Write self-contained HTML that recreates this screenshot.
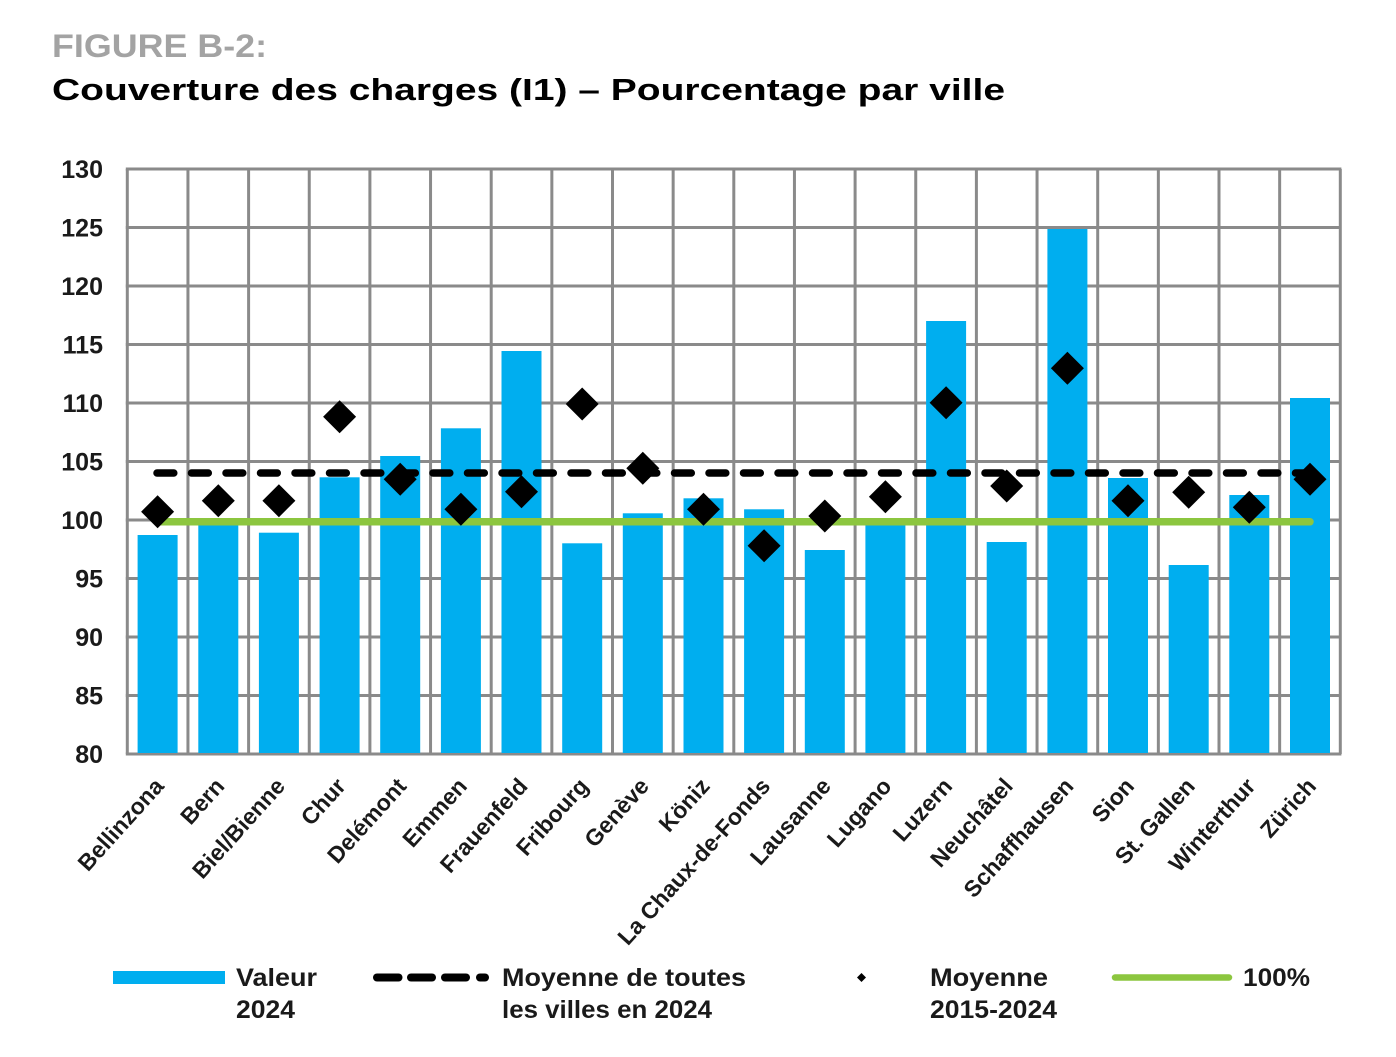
<!DOCTYPE html>
<html><head><meta charset="utf-8"><style>
html,body{margin:0;padding:0;background:#fff;}
svg{display:block;}
text{font-family:"Liberation Sans",Arial,sans-serif;}
</style></head><body>
<svg width="1396" height="1057" viewBox="0 0 1396 1057" xmlns="http://www.w3.org/2000/svg">
<rect width="1396" height="1057" fill="#fff"/>
<text x="52" y="57" font-size="32" font-weight="bold" fill="#a3a3a3" textLength="215" lengthAdjust="spacingAndGlyphs">FIGURE B-2:</text>
<text x="52" y="100" font-size="30.5" font-weight="bold" fill="#000" textLength="953" lengthAdjust="spacingAndGlyphs">Couverture des charges (I1) – Pourcentage par ville</text>

<g stroke="#8a8a8a" stroke-width="3" fill="none">
<line x1="125.8" y1="169" x2="1341.4" y2="169"/>
<line x1="125.8" y1="227.5" x2="1341.4" y2="227.5"/>
<line x1="125.8" y1="286" x2="1341.4" y2="286"/>
<line x1="125.8" y1="344.5" x2="1341.4" y2="344.5"/>
<line x1="125.8" y1="403" x2="1341.4" y2="403"/>
<line x1="125.8" y1="461.5" x2="1341.4" y2="461.5"/>
<line x1="125.8" y1="520" x2="1341.4" y2="520"/>
<line x1="125.8" y1="578.5" x2="1341.4" y2="578.5"/>
<line x1="125.8" y1="637" x2="1341.4" y2="637"/>
<line x1="125.8" y1="695.5" x2="1341.4" y2="695.5"/>
<line x1="125.8" y1="754" x2="1341.4" y2="754"/>
<line x1="127.3" y1="169" x2="127.3" y2="754"/>
<line x1="187.95" y1="169" x2="187.95" y2="754"/>
<line x1="248.6" y1="169" x2="248.6" y2="754"/>
<line x1="309.25" y1="169" x2="309.25" y2="754"/>
<line x1="369.9" y1="169" x2="369.9" y2="754"/>
<line x1="430.55" y1="169" x2="430.55" y2="754"/>
<line x1="491.2" y1="169" x2="491.2" y2="754"/>
<line x1="551.85" y1="169" x2="551.85" y2="754"/>
<line x1="612.5" y1="169" x2="612.5" y2="754"/>
<line x1="673.15" y1="169" x2="673.15" y2="754"/>
<line x1="733.8" y1="169" x2="733.8" y2="754"/>
<line x1="794.45" y1="169" x2="794.45" y2="754"/>
<line x1="855.1" y1="169" x2="855.1" y2="754"/>
<line x1="915.75" y1="169" x2="915.75" y2="754"/>
<line x1="976.4" y1="169" x2="976.4" y2="754"/>
<line x1="1037.05" y1="169" x2="1037.05" y2="754"/>
<line x1="1097.7" y1="169" x2="1097.7" y2="754"/>
<line x1="1158.35" y1="169" x2="1158.35" y2="754"/>
<line x1="1219" y1="169" x2="1219" y2="754"/>
<line x1="1279.65" y1="169" x2="1279.65" y2="754"/>
<line x1="1340.3" y1="169" x2="1340.3" y2="754"/>
</g>

<g font-size="25" font-weight="bold" fill="#1a1a1a" text-anchor="end">
<text x="103" y="178">130</text>
<text x="103" y="236.5">125</text>
<text x="103" y="295">120</text>
<text x="103" y="353.5">115</text>
<text x="103" y="412">110</text>
<text x="103" y="470.5">105</text>
<text x="103" y="529">100</text>
<text x="103" y="587.5">95</text>
<text x="103" y="646">90</text>
<text x="103" y="704.5">85</text>
<text x="103" y="763">80</text>
</g>

<g fill="#00aeef">
<rect x="137.6" y="535" width="40" height="218"/>
<rect x="198.3" y="522" width="40" height="231"/>
<rect x="258.9" y="532.7" width="40" height="220.3"/>
<rect x="319.6" y="477.3" width="40" height="275.7"/>
<rect x="380.2" y="456" width="40" height="297"/>
<rect x="440.9" y="428.3" width="40" height="324.7"/>
<rect x="501.5" y="351" width="40" height="402"/>
<rect x="562.2" y="543.3" width="40" height="209.7"/>
<rect x="622.8" y="513.3" width="40" height="239.7"/>
<rect x="683.5" y="498.3" width="40" height="254.7"/>
<rect x="744.1" y="509.3" width="40" height="243.7"/>
<rect x="804.8" y="550" width="40" height="203"/>
<rect x="865.4" y="522" width="40" height="231"/>
<rect x="926.1" y="321" width="40" height="432"/>
<rect x="986.7" y="542" width="40" height="211"/>
<rect x="1047.4" y="229" width="40" height="524"/>
<rect x="1108" y="478" width="40" height="275"/>
<rect x="1168.7" y="565" width="40" height="188"/>
<rect x="1229.3" y="495" width="40" height="258"/>
<rect x="1290" y="398" width="40" height="355"/>
</g>

<line x1="157" y1="473" x2="1312" y2="473" stroke="#000" stroke-width="7.5" stroke-linecap="round" stroke-dasharray="16.8 17.7"/>
<line x1="157.6" y1="521.8" x2="1310" y2="521.8" stroke="#8cc63f" stroke-width="7.5" stroke-linecap="round"/>

<g fill="#000">
<path d="M157.6 495.2 L174.1 511.7 L157.6 528.2 L141.1 511.7 Z"/>
<path d="M218.3 484.2 L234.8 500.7 L218.3 517.2 L201.8 500.7 Z"/>
<path d="M278.9 484.2 L295.4 500.7 L278.9 517.2 L262.4 500.7 Z"/>
<path d="M339.6 400.2 L356.1 416.7 L339.6 433.2 L323.1 416.7 Z"/>
<path d="M400.2 462.8 L416.7 479.3 L400.2 495.8 L383.7 479.3 Z"/>
<path d="M460.9 492.8 L477.4 509.3 L460.9 525.8 L444.4 509.3 Z"/>
<path d="M521.5 475.2 L538 491.7 L521.5 508.2 L505 491.7 Z"/>
<path d="M582.2 387.5 L598.7 404 L582.2 420.5 L565.7 404 Z"/>
<path d="M642.8 451.8 L659.3 468.3 L642.8 484.8 L626.3 468.3 Z"/>
<path d="M703.5 492.8 L720 509.3 L703.5 525.8 L687 509.3 Z"/>
<path d="M764.1 529.2 L780.6 545.7 L764.1 562.2 L747.6 545.7 Z"/>
<path d="M824.8 499.5 L841.3 516 L824.8 532.5 L808.3 516 Z"/>
<path d="M885.4 480.2 L901.9 496.7 L885.4 513.2 L868.9 496.7 Z"/>
<path d="M946.1 386.2 L962.6 402.7 L946.1 419.2 L929.6 402.7 Z"/>
<path d="M1006.7 469.5 L1023.2 486 L1006.7 502.5 L990.2 486 Z"/>
<path d="M1067.4 351.8 L1083.9 368.3 L1067.4 384.8 L1050.9 368.3 Z"/>
<path d="M1128 484.2 L1144.5 500.7 L1128 517.2 L1111.5 500.7 Z"/>
<path d="M1188.7 475.8 L1205.2 492.3 L1188.7 508.8 L1172.2 492.3 Z"/>
<path d="M1249.3 490.8 L1265.8 507.3 L1249.3 523.8 L1232.8 507.3 Z"/>
<path d="M1310 462.8 L1326.5 479.3 L1310 495.8 L1293.5 479.3 Z"/>
</g>

<g font-size="23" font-weight="bold" fill="#1a1a1a" text-anchor="end">
<text transform="translate(165,787) rotate(-48)">Bellinzona</text>
<text transform="translate(225.7,787) rotate(-48)">Bern</text>
<text transform="translate(286.3,787) rotate(-48)">Biel/Bienne</text>
<text transform="translate(347,787) rotate(-48)">Chur</text>
<text transform="translate(407.6,787) rotate(-48)">Delémont</text>
<text transform="translate(468.3,787) rotate(-48)">Emmen</text>
<text transform="translate(528.9,787) rotate(-48)">Frauenfeld</text>
<text transform="translate(589.6,787) rotate(-48)">Fribourg</text>
<text transform="translate(650.2,787) rotate(-48)">Genève</text>
<text transform="translate(710.9,787) rotate(-48)">Köniz</text>
<text transform="translate(771.5,787) rotate(-48)">La Chaux-de-Fonds</text>
<text transform="translate(832.2,787) rotate(-48)">Lausanne</text>
<text transform="translate(892.8,787) rotate(-48)">Lugano</text>
<text transform="translate(953.5,787) rotate(-48)">Luzern</text>
<text transform="translate(1014.1,787) rotate(-48)">Neuchâtel</text>
<text transform="translate(1074.8,787) rotate(-48)">Schaffhausen</text>
<text transform="translate(1135.4,787) rotate(-48)">Sion</text>
<text transform="translate(1196.1,787) rotate(-48)">St. Gallen</text>
<text transform="translate(1256.7,787) rotate(-48)">Winterthur</text>
<text transform="translate(1317.4,787) rotate(-48)">Zürich</text>
</g>

<!-- Legend -->
<rect x="113" y="971" width="112" height="13" fill="#00aeef"/>
<g stroke="#000" stroke-width="8" stroke-linecap="round">
<line x1="377" y1="977.5" x2="398.5" y2="977.5"/>
<line x1="411" y1="977.5" x2="432" y2="977.5"/>
<line x1="445" y1="977.5" x2="466" y2="977.5"/>
<line x1="480" y1="977.5" x2="485" y2="977.5"/>
</g>
<path d="M861.5 973 L866 977.5 L861.5 982 L857 977.5 Z" fill="#000"/>
<line x1="1115" y1="977.5" x2="1229" y2="977.5" stroke="#8cc63f" stroke-width="6.5" stroke-linecap="round"/>

<g font-size="25" font-weight="bold" fill="#1a1a1a">
<text x="236" y="986" textLength="81" lengthAdjust="spacingAndGlyphs">Valeur</text>
<text x="236" y="1018" textLength="59" lengthAdjust="spacingAndGlyphs">2024</text>
<text x="502" y="986" textLength="244" lengthAdjust="spacingAndGlyphs">Moyenne de toutes</text>
<text x="502" y="1018" textLength="210" lengthAdjust="spacingAndGlyphs">les villes en 2024</text>
<text x="930" y="986" textLength="118" lengthAdjust="spacingAndGlyphs">Moyenne</text>
<text x="930" y="1018" textLength="127" lengthAdjust="spacingAndGlyphs">2015-2024</text>
<text x="1243" y="986" textLength="67" lengthAdjust="spacingAndGlyphs">100%</text>
</g>
</svg>
</body></html>
